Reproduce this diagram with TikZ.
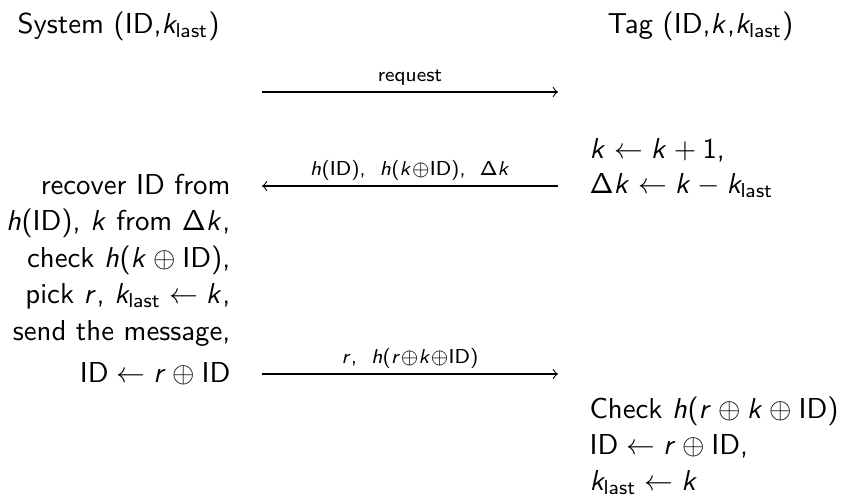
\documentclass[tikz,border=0pt]{standalone}
\usepackage{amsmath}
\usepackage{tikz}
\usetikzlibrary{arrows,calc,positioning}

% sans serif math, as on the slide
\SetSymbolFont{operators}{normal}{OT1}{cmss}{m}{n}
\DeclareSymbolFont{sfslant}{OT1}{cmss}{m}{sl}
\DeclareMathSymbol{h}{\mathalpha}{sfslant}{`h}
\DeclareMathSymbol{k}{\mathalpha}{sfslant}{`k}
\DeclareMathSymbol{r}{\mathalpha}{sfslant}{`r}

\newcommand{\ID}{\mathsf{ID}}
\newcommand{\klast}{k_{\mathsf{last}}}

\begin{document}
\begin{tikzpicture}[x=0.3472pt, y=-0.3472pt]
	\tikzstyle{every node} = [font=\sffamily, inner sep=0pt]
	\tikzstyle{msg} = [->, >=to, line width=0.4pt]
	\tikzstyle{lbl} = [font=\sffamily\scriptsize, anchor=base, yshift=3.6pt]
\useasboundingbox (0,0) rectangle (841,496);

\node[anchor=base west] (sys) at (17,33) {System (ID,$\klast$)};
\node[anchor=base west] (tag) at (607,33) {Tag (ID,$k$,$\klast$)};

% system side
\node[anchor=base east] (s1) at (231,194) {recover ID from};
\node[anchor=base east] (s2) at (231,230.5) {$h(\ID)$, $k$ from $\Delta k$,};
\node[anchor=base east] (s3) at (231,267) {check $h(k\oplus\ID)$,};
\node[anchor=base east] (s4) at (231,303.5) {pick $r$, $\klast\leftarrow k$,};
\node[anchor=base east] (s5) at (231,340) {send the message,};
\node[anchor=base east] (s6) at (231,382) {$\ID\leftarrow r\oplus\ID$};

% tag side
\node[anchor=base west] (t1) at (589,158) {$k\leftarrow k+1$,};
\node[anchor=base west] (t2) at (589,193) {$\Delta k\leftarrow k-\klast$};
\node[anchor=base west] (t3) at (589,418) {Check $h(r\oplus k\oplus\ID)$};
\node[anchor=base west] (t4) at (589,454) {$\ID\leftarrow r\oplus\ID$,};
\node[anchor=base west] (t5) at (589,490) {$\klast\leftarrow k$};

\coordinate (a1) at (262,92);
\coordinate (b1) at (558,92);
\coordinate (a2) at (262,186);
\coordinate (b2) at (558,186);
\coordinate (a3) at (262,374);
\coordinate (b3) at (558,374);

	\draw[msg] (a1) -- node[lbl] {request} (b1);
	\draw[msg] (b2) -- node[lbl] {$h(\ID)$, \ $h(k{\oplus}\ID)$, \ $\Delta k$} (a2);
	\draw[msg] (a3) -- node[lbl] {$r$, \ $h(r{\oplus}k{\oplus}\ID)$} (b3);
\end{tikzpicture}
\end{document}
